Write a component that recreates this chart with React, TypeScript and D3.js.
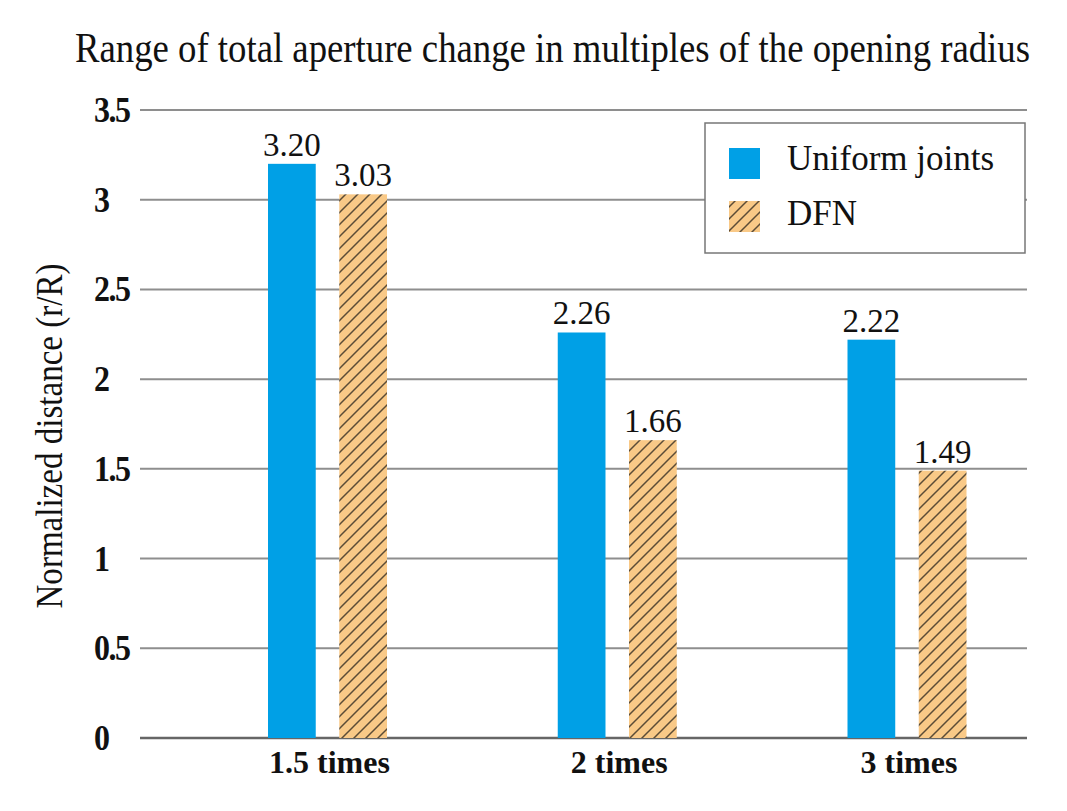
import React from "react";
import * as d3 from "d3";

const categories = ["1.5 times", "2 times", "3 times"];
const seriesNames = ["Uniform joints", "DFN"];
const uniformValues = [3.2, 2.26, 2.22];
const dfnValues = [3.03, 1.66, 1.49];
const yTicks = [0, 0.5, 1, 1.5, 2, 2.5, 3, 3.5];
const yTickLabels = ["0", "0.5", "1", "1.5", "2", "2.5", "3", "3.5"];

const W = 1067;
const H = 811;
const FONT = "'Liberation Serif', 'Times New Roman', serif";
const BLUE = "#00A0E6";
const ORANGE = "#F9C987";

export default function App() {
  const y = d3.scaleLinear().domain([0, 3.5]).range([738, 110]);
  const x = d3.scalePoint<string>().domain(categories).range([327.5, 907]);
  const inner = d3
    .scaleBand<string>()
    .domain(seriesNames)
    .range([-59.5, 59.5])
    .paddingInner(0.33)
    .paddingOuter(0);
  const bw = inner.bandwidth();
  const series = [
    { name: seriesNames[0], values: uniformValues, fill: BLUE },
    { name: seriesNames[1], values: dfnValues, fill: "url(#hatch)" },
  ];
  const gridX0 = 140;
  const gridX1 = 1027;
  const P = 12;

  return (
    <svg
      width={W}
      height={H}
      style={{ position: "absolute", left: 0, top: 0, background: "#fff" }}
      fontFamily={FONT}
    >
      <defs>
        <pattern id="hatch" patternUnits="userSpaceOnUse" width={P} height={P}>
          <rect width={P} height={P} fill={ORANGE} />
          <path
            d={`M-2,2 L2,-2 M0,${P} L${P},0 M${P - 2},${P + 2} L${P + 2},${P - 2}`}
            stroke="#5c4c36"
            strokeWidth={1.5}
          />
        </pattern>
      </defs>
      <rect width={W} height={H} fill="#fff" />

      {/* title */}
      <text
        transform="translate(75,62) scale(1,1.12)"
        fontSize={37}
        textLength={955}
        lengthAdjust="spacingAndGlyphs"
        fill="#111"
      >
        Range of  total aperture change in multiples of the opening radius
      </text>

      {/* y axis label */}
      <text
        transform={`translate(62,${436}) rotate(-90)`}
        textAnchor="middle"
        fontSize={38}
        textLength={345}
        lengthAdjust="spacingAndGlyphs"
        fill="#111"
      >
        Normalized distance (r/R)
      </text>

      {/* gridlines */}
      {yTicks.map((t) => (
        <line
          key={t}
          x1={gridX0}
          x2={gridX1}
          y1={y(t)}
          y2={y(t)}
          stroke={t === 0 ? "#666" : "#8e8e8e"}
          strokeWidth={t === 0 ? 2.6 : 2}
        />
      ))}

      {/* y tick labels */}
      {yTicks.map((t, i) => (
        <text
          key={t}
          transform={`translate(94,${y(t) + 12}) scale(1,1.15)`}
          fontSize={32}
          fontWeight="bold"
          letterSpacing={-1.5}
          fill="#111"
        >
          {yTickLabels[i]}
        </text>
      ))}

      {/* bars */}
      {series.map((s) =>
        categories.map((c, i) => {
          const bx = (x(c) as number) + (inner(s.name) as number);
          const by = y(s.values[i]);
          return (
            <g key={s.name + c}>
              <rect x={bx} y={by} width={bw} height={y(0) - by} fill={s.fill} />
              <text
                x={bx + bw / 2}
                y={by - 8}
                textAnchor="middle"
                fontSize={33}
                fill="#111"
              >
                {s.values[i].toFixed(2)}
              </text>
            </g>
          );
        })
      )}

      {/* x labels */}
      {categories.map((c) => (
        <text
          key={c}
          x={(x(c) as number) + 2}
          y={773}
          textAnchor="middle"
          fontSize={32}
          fontWeight="bold"
          fill="#111"
        >
          {c}
        </text>
      ))}

      {/* legend */}
      <g>
        <rect x={705} y={123} width={320} height={130} fill="#fff" stroke="#777" strokeWidth={1.5} />
        <rect x={729} y={148} width={31} height={31} fill={BLUE} />
        <text x={787} y={170} fontSize={35} fill="#111">
          {seriesNames[0]}
        </text>
        <rect x={729} y={201} width={31} height={31} fill="url(#hatch)" />
        <text x={787} y={225} fontSize={35} fill="#111">
          {seriesNames[1]}
        </text>
      </g>
    </svg>
  );
}
